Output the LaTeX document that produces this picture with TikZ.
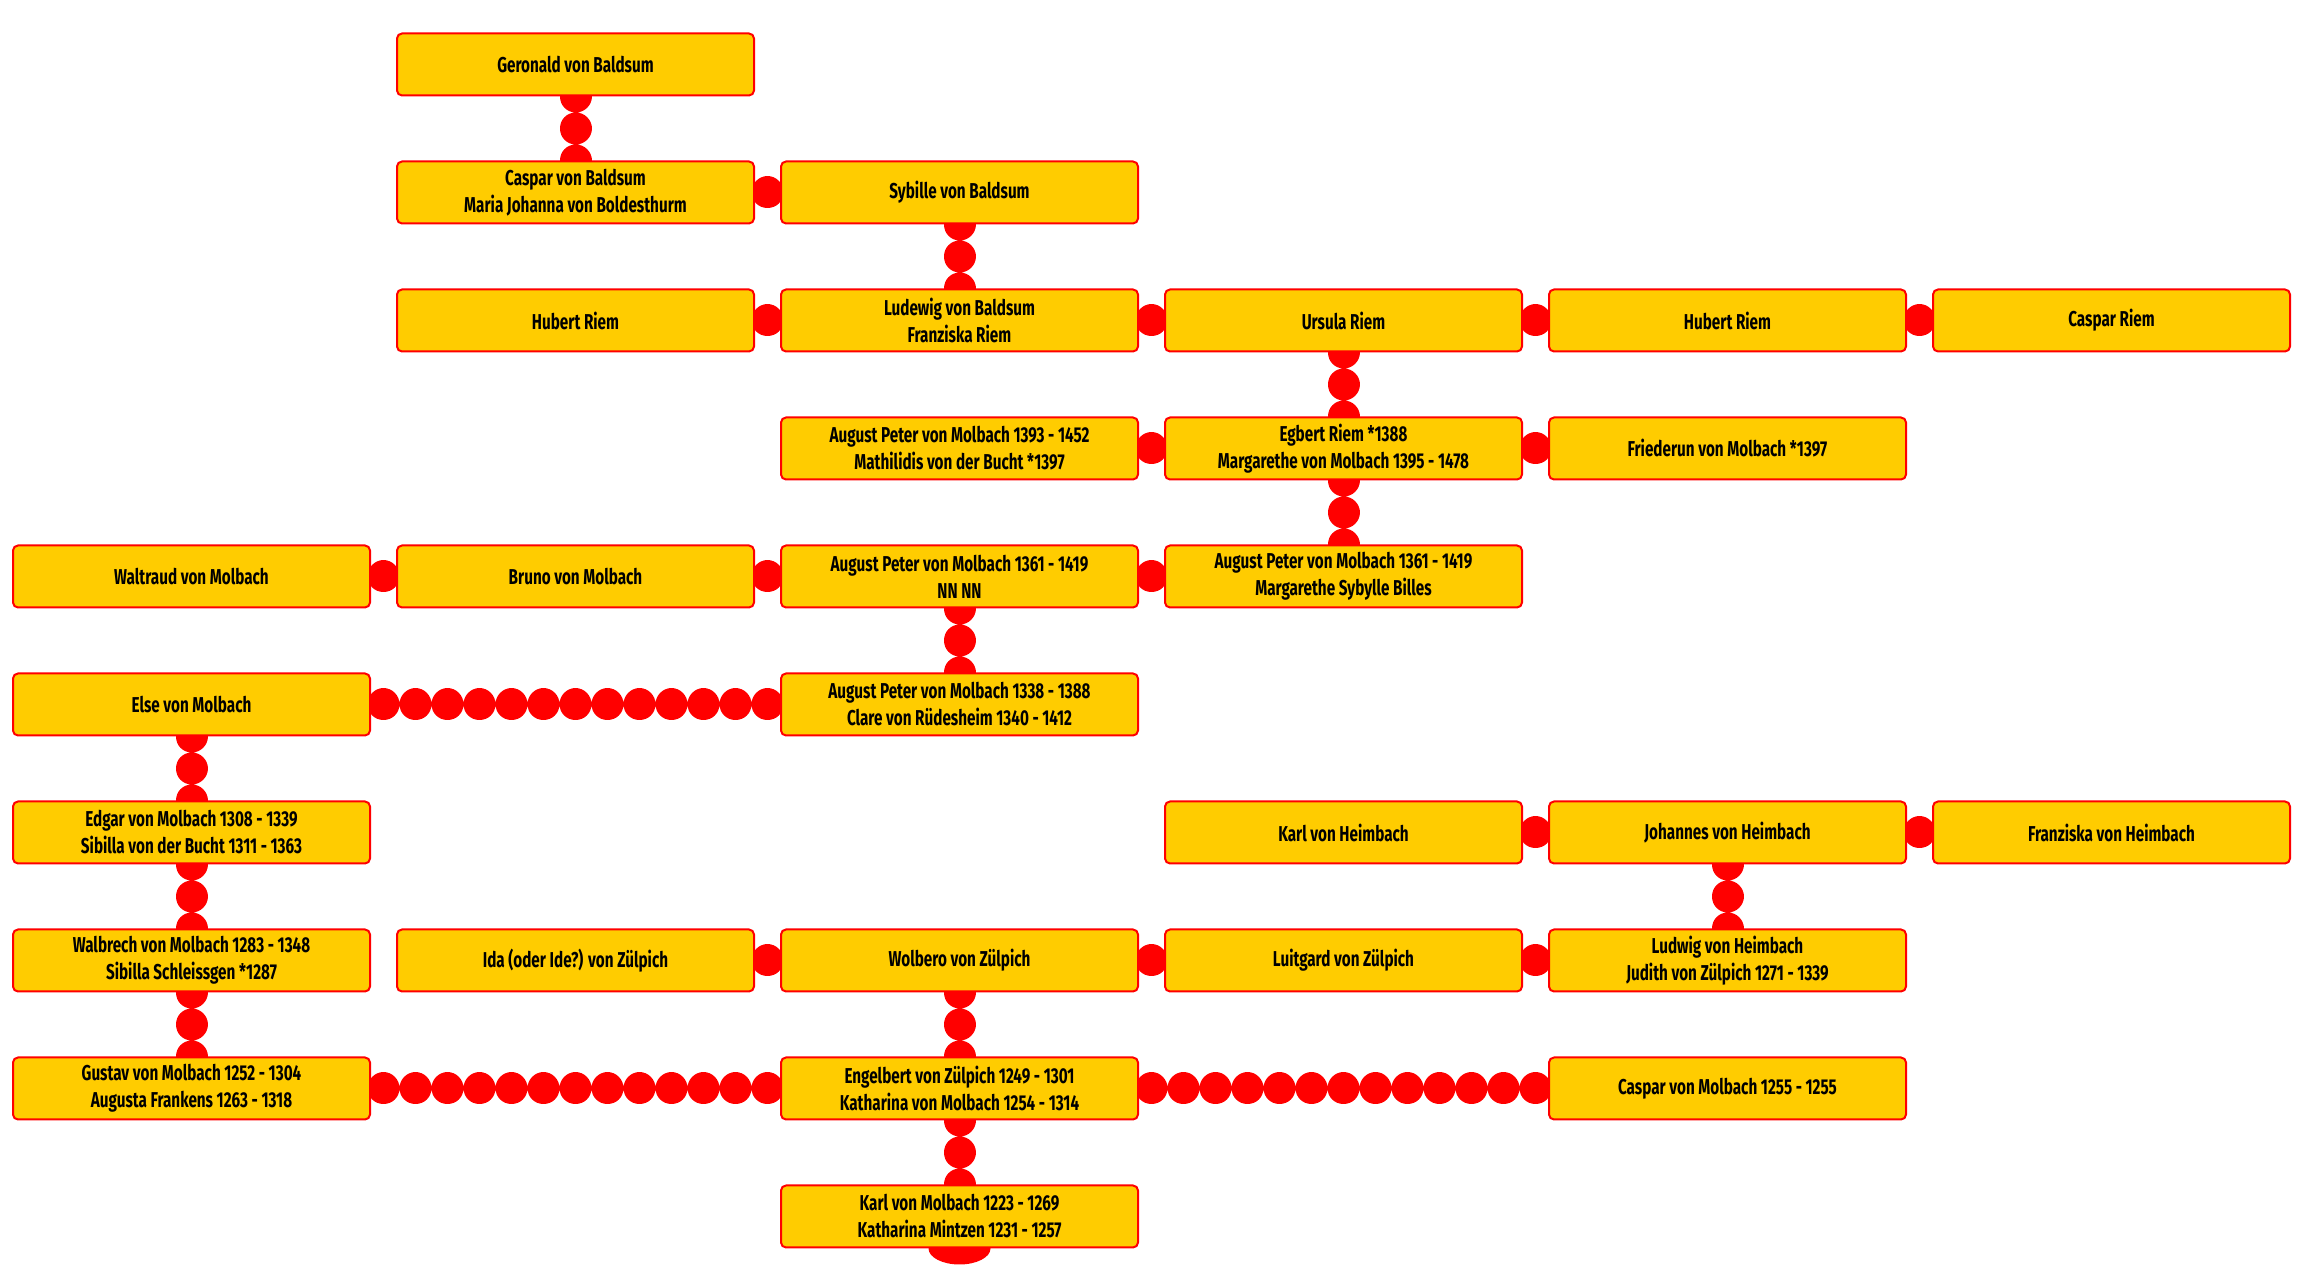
\documentclass[tikz,border=0pt]{standalone}
\usepackage{fontspec}
\setmainfont{Fira Sans}[FakeStretch=0.71]
\usepackage{tikz}
\usetikzlibrary{backgrounds,calc}
\definecolor{boxfill}{RGB}{255,204,0}
\definecolor{boxline}{RGB}{255,0,0}

\begin{document}
\begin{tikzpicture}[line join=bevel,
  person/.style={draw=boxline,fill=boxfill,line width=2bp,rounded corners=5bp,
    minimum width=357bp,minimum height=62bp,inner sep=0pt,align=center,
    font=\fontsize{21.5bp}{27bp}\selectfont\bfseries},
  link/.style={draw=boxline,line width=32bp,line cap=round,
    dash pattern=on 0.01bp off 31.99bp},
]
\useasboundingbox (0bp,1.5bp) rectangle (2304bp,1281.5bp);
%%
\node (geronald) at (575.5bp,1217bp) [person] {Geronald von Baldsum};
  \node (caspar) at (575.5bp,1089bp) [person] {Caspar von Baldsum\\Maria Johanna von Boldesthurm};
  \node (sybille) at (959.5bp,1089bp) [person] {Sybille von Baldsum};
  \node (hubertA) at (575.5bp,961bp) [person] {Hubert Riem};
  \node (ludewig) at (959.5bp,961bp) [person] {Ludewig von Baldsum\\Franziska Riem};
  \node (ursula) at (1343.5bp,961bp) [person] {Ursula Riem};
  \node (hubertB) at (1727.5bp,961bp) [person] {Hubert Riem};
  \node (caspriem) at (2111.5bp,961bp) [person] {Caspar Riem};
  \node (augustA) at (959.5bp,833bp) [person] {August Peter von Molbach 1393 - 1452\\Mathilidis von der Bucht *1397};
  \node (egbert) at (1343.5bp,833bp) [person] {Egbert Riem *1388\\Margarethe von Molbach 1395 - 1478};
  \node (friederun) at (1727.5bp,833bp) [person] {Friederun von Molbach *1397};
  \node (waltraud) at (191.5bp,705bp) [person] {Waltraud von Molbach};
  \node (bruno) at (575.5bp,705bp) [person] {Bruno von Molbach};
  \node (augustB) at (959.5bp,705bp) [person] {August Peter von Molbach 1361 - 1419\\NN NN};
  \node (augustC) at (1343.5bp,705bp) [person] {August Peter von Molbach 1361 - 1419\\Margarethe Sybylle Billes};
  \node (else) at (191.5bp,577bp) [person] {Else von Molbach};
  \node (augustD) at (959.5bp,577bp) [person] {August Peter von Molbach 1338 - 1388\\Clare von Rüdesheim 1340 - 1412};
  \node (edgar) at (191.5bp,449bp) [person] {Edgar von Molbach 1308 - 1339\\Sibilla von der Bucht 1311 - 1363};
  \node (karlH) at (1343.5bp,449bp) [person] {Karl von Heimbach};
  \node (johannes) at (1727.5bp,449bp) [person] {Johannes von Heimbach};
  \node (franziska) at (2111.5bp,449bp) [person] {Franziska von Heimbach};
  \node (walbrech) at (191.5bp,321bp) [person] {Walbrech von Molbach 1283 - 1348\\Sibilla Schleissgen *1287};
  \node (ida) at (575.5bp,321bp) [person] {Ida (oder Ide?) von Zülpich};
  \node (wolbero) at (959.5bp,321bp) [person] {Wolbero von Zülpich};
  \node (luitgard) at (1343.5bp,321bp) [person] {Luitgard von Zülpich};
  \node (ludwig) at (1727.5bp,321bp) [person] {Ludwig von Heimbach\\Judith von Zülpich 1271 - 1339};
  \node (gustav) at (191.5bp,193bp) [person] {Gustav von Molbach 1252 - 1304\\Augusta Frankens 1263 - 1318};
  \node (engelbert) at (959.5bp,193bp) [person] {Engelbert von Zülpich 1249 - 1301\\Katharina von Molbach 1254 - 1314};
  \node (caspmol) at (1727.5bp,193bp) [person] {Caspar von Molbach 1255 - 1255};
  \node (karlM) at (959.5bp,65bp) [person] {Karl von Molbach 1223 - 1269\\Katharina Mintzen 1231 - 1257};
%
\begin{scope}[on background layer]
  \draw [link] (geronald.center) -- (caspar.center);
  \draw [link] (caspar.center) -- (sybille.center);
  \draw [link] (sybille.center) -- (ludewig.center);
  \draw [link] (hubertA.center) -- (ludewig.center);
  \draw [link] (ludewig.center) -- (ursula.center);
  \draw [link] (ursula.center) -- (hubertB.center);
  \draw [link] (hubertB.center) -- (caspriem.center);
  \draw [link] (ursula.center) -- (egbert.center);
  \draw [link] (augustA.center) -- (egbert.center);
  \draw [link] (egbert.center) -- (friederun.center);
  \draw [link] (egbert.center) -- (augustC.center);
  \draw [link] (waltraud.center) -- (bruno.center);
  \draw [link] (bruno.center) -- (augustB.center);
  \draw [link] (augustB.center) -- (augustC.center);
  \draw [link] (augustB.center) -- (augustD.center);
  \draw [link] (else.center) -- (augustD.center);
  \draw [link] (else.center) -- (edgar.center);
  \draw [link] (edgar.center) -- (walbrech.center);
  \draw [link] (walbrech.center) -- (gustav.center);
  \draw [link] (karlH.center) -- (johannes.center);
  \draw [link] (johannes.center) -- (franziska.center);
  \draw [link] (johannes.center) -- (ludwig.center);
  \draw [link] (ida.center) -- (wolbero.center);
  \draw [link] (wolbero.center) -- (luitgard.center);
  \draw [link] (luitgard.center) -- (ludwig.center);
  \draw [link] (wolbero.center) -- (engelbert.center);
  \draw [link] (gustav.center) -- (engelbert.center);
  \draw [link] (engelbert.center) -- (caspmol.center);
  \draw [link] (engelbert.center) -- (karlM.center);
  \fill [boxline] (karlM.south) ellipse (31bp and 16bp);
\end{scope}
%
\end{tikzpicture}
\end{document}
